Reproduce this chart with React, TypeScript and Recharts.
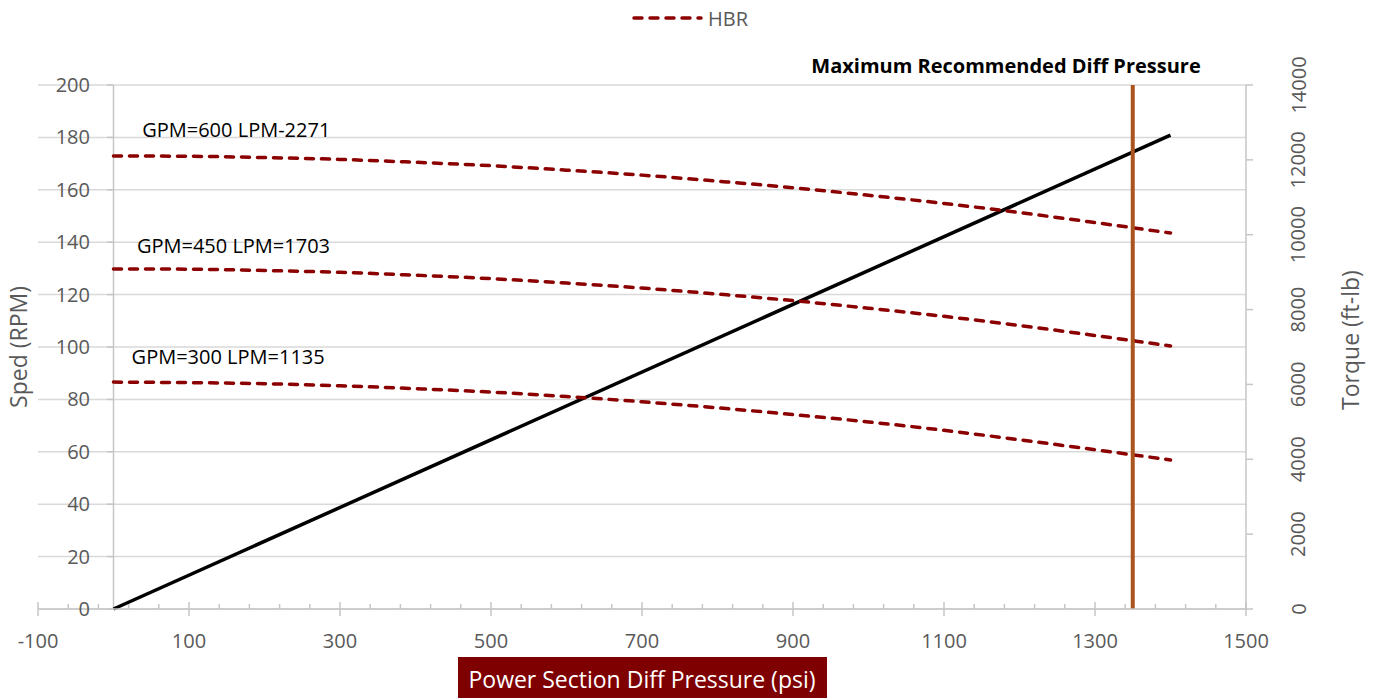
import React from "react";
import {
  LineChart,
  Line,
  XAxis,
  YAxis,
  CartesianGrid,
  ReferenceLine,
  ReferenceDot,
} from "recharts";

// ---- data ----
const pressurePsi = [0, 100, 200, 300, 400, 500, 600, 700, 800, 900, 1000, 1100, 1200, 1300, 1400];
const rpmGpm600 = [172.9, 172.8, 172.3, 171.6, 170.5, 169.2, 167.5, 165.6, 163.3, 160.8, 157.9, 154.8, 151.3, 147.5, 143.5];
const rpmGpm450 = [129.8, 129.7, 129.2, 128.5, 127.4, 126.1, 124.4, 122.5, 120.2, 117.7, 114.8, 111.7, 108.2, 104.4, 100.4];
const rpmGpm300 = [86.6, 86.4, 86.0, 85.2, 84.1, 82.8, 81.1, 79.1, 76.8, 74.2, 71.4, 68.2, 64.6, 60.8, 56.9];
const torquePsi = [0, 1400];
const torqueFtLb = [0, 12660];
const maxDiffPressure = 1350;

const majorXTicks = [-100, 100, 300, 500, 700, 900, 1100, 1300, 1500];
const minorXTicks = [-60, -20, 20, 60, 140, 180, 220, 260, 340, 380, 420, 460, 540, 580, 620, 660, 740, 780, 820, 860, 940, 980, 1020, 1060, 1140, 1180, 1220, 1260, 1340, 1380, 1420, 1460];
const allXTicks = [...majorXTicks, ...minorXTicks].sort((a, b) => a - b);
const leftTicks = [0, 20, 40, 60, 80, 100, 120, 140, 160, 180, 200];
const rightTicks = [0, 2000, 4000, 6000, 8000, 10000, 12000, 14000];

const curveLabels = [
  { text: "GPM=600 LPM-2271", p: 38, rpm: 180.2 },
  { text: "GPM=450 LPM=1703", p: 31, rpm: 135.9 },
  { text: "GPM=300 LPM=1135", p: 24, rpm: 93.5 },
];

const mk = (vals: number[]) => pressurePsi.map((p, i) => ({ p, rpm: vals[i] }));
const data600 = mk(rpmGpm600);
const data450 = mk(rpmGpm450);
const data300 = mk(rpmGpm300);
const torqueData = torquePsi.map((p, i) => ({ p, t: torqueFtLb[i] }));

const FONT = "'Open Sans', 'Noto Sans', sans-serif";
const AXIS_GRAY = "#c6c6c6";
const TEXT_GRAY = "#595959";
const HBR = "#8B0000";

const XTick = (props: any) => {
  const { x, y, payload } = props;
  const major = majorXTicks.includes(payload.value);
  return (
    <g>
      <line x1={x} x2={x} y1={major ? y - 7 : y - 5} y2={major ? y + 7 : y} stroke={AXIS_GRAY} strokeWidth={1.5} />
      {major && (
        <text x={x} y={y + 39} textAnchor="middle" fill={TEXT_GRAY} fontSize={20} fontFamily={FONT}>
          {payload.value}
        </text>
      )}
    </g>
  );
};

const LeftTick = (props: any) => {
  const { x, y, payload } = props;
  return (
    <g>
      <line x1={x + 69} x2={x + 75} y1={y} y2={y} stroke={AXIS_GRAY} strokeWidth={1.5} />
      <text x={x + 52} y={y + 7} textAnchor="end" fill={TEXT_GRAY} fontSize={20} fontFamily={FONT}>
        {payload.value}
      </text>
    </g>
  );
};

const RightTick = (props: any) => {
  const { x, y, payload } = props;
  const cx = x + 52;
  return (
    <g>
      <line x1={x} x2={x + 7} y1={y} y2={y} stroke={AXIS_GRAY} strokeWidth={1.5} />
      <text
        x={cx}
        y={y}
        transform={`rotate(-90, ${cx}, ${y})`}
        textAnchor="middle"
        dominantBaseline="central"
        fill={TEXT_GRAY}
        fontSize={20}
        fontFamily={FONT}
      >
        {payload.value}
      </text>
    </g>
  );
};

export default function App() {
  return (
    <div style={{ position: "absolute", left: 0, top: 0, width: 1374, height: 698, background: "#fff" }}>
      <LineChart width={1374} height={698} margin={{ top: 85, right: 0, left: 0, bottom: 29 }}>
        <CartesianGrid vertical={false} yAxisId="left" stroke="#d9d9d9" strokeWidth={1.5} />
        <XAxis
          dataKey="p"
          type="number"
          domain={[-100, 1500]}
          ticks={allXTicks}
          interval={0}
          height={60}
          tickSize={0}
          tickMargin={0}
          tickLine={false}
          axisLine={{ stroke: AXIS_GRAY, strokeWidth: 1.5 }}
          tick={XTick}
          allowDataOverflow
        />
        <YAxis
          yAxisId="left"
          orientation="left"
          width={38}
          domain={[0, 200]}
          ticks={leftTicks}
          interval={0}
          tickSize={0}
          tickMargin={0}
          tickLine={false}
          axisLine={false}
          tick={LeftTick}
        />
        <YAxis
          yAxisId="right"
          orientation="right"
          width={128}
          domain={[0, 14000]}
          ticks={rightTicks}
          interval={0}
          tickSize={0}
          tickMargin={0}
          tickLine={false}
          axisLine={{ stroke: AXIS_GRAY, strokeWidth: 1.5 }}
          tick={RightTick}
        />
        <ReferenceLine x={0} yAxisId="left" stroke={AXIS_GRAY} strokeWidth={1.5} />
        <Line
          yAxisId="right"
          data={torqueData}
          dataKey="t"
          type="linear"
          stroke="#000"
          strokeWidth={3.5}
          dot={false}
          isAnimationActive={false}
          name="Torque"
        />
        {[data600, data450, data300].map((d, i) => (
          <Line
            key={i}
            yAxisId="left"
            data={d}
            dataKey="rpm"
            type="monotone"
            stroke={HBR}
            strokeWidth={3.5}
            strokeDasharray="8 8"
            strokeLinecap="round"
            dot={false}
            isAnimationActive={false}
            name="HBR"
          />
        ))}
        <ReferenceLine
          x={maxDiffPressure}
          yAxisId="left"
          stroke="#AA5420"
          strokeWidth={4}
          label={(props: any) => {
            const vb = props.viewBox || {};
            return (
              <text
                x={vb.x + 68}
                y={vb.y - 12}
                textAnchor="end"
                fill="#000"
                fontWeight="bold"
                fontSize={20}
                fontFamily={FONT}
              >
                Maximum Recommended Diff Pressure
              </text>
            );
          }}
        />
        {curveLabels.map((c, i) => (
          <ReferenceDot
            key={i}
            x={c.p}
            y={c.rpm}
            yAxisId="left"
            r={1}
            fill="none"
            stroke="none"
            label={(props: any) => {
              const vb = props.viewBox || {};
              return (
                <text x={vb.x + 1} y={vb.y + 1} textAnchor="start" fill="#000" fontSize={20} fontFamily={FONT}>
                  {c.text}
                </text>
              );
            }}
          />
        ))}
      </LineChart>
      <svg
        width={1374}
        height={698}
        style={{ position: "absolute", left: 0, top: 0, pointerEvents: "none" }}
      >
        <line x1={634} x2={701} y1={18} y2={18} stroke={HBR} strokeWidth={3.5} strokeDasharray="8 8" strokeLinecap="round" />
        <text x={708} y={26} fill={TEXT_GRAY} fontSize={20} fontFamily={FONT}>
          HBR
        </text>
        <text
          x={18}
          y={347}
          transform="rotate(-90, 18, 347)"
          textAnchor="middle"
          dominantBaseline="central"
          fill={TEXT_GRAY}
          fontSize={23}
          fontFamily={FONT}
        >
          Sped (RPM)
        </text>
        <text
          x={1350}
          y={340}
          transform="rotate(-90, 1350, 340)"
          textAnchor="middle"
          dominantBaseline="central"
          fill={TEXT_GRAY}
          fontSize={23}
          fontFamily={FONT}
        >
          Torque (ft-lb)
        </text>
        <rect x={458} y={657} width={369} height={41} fill="#7F0000" />
        <text x={642} y={688} textAnchor="middle" fill="#fff" fontSize={23} fontFamily={FONT}>
          Power Section Diff Pressure (psi)
        </text>
      </svg>
    </div>
  );
}
